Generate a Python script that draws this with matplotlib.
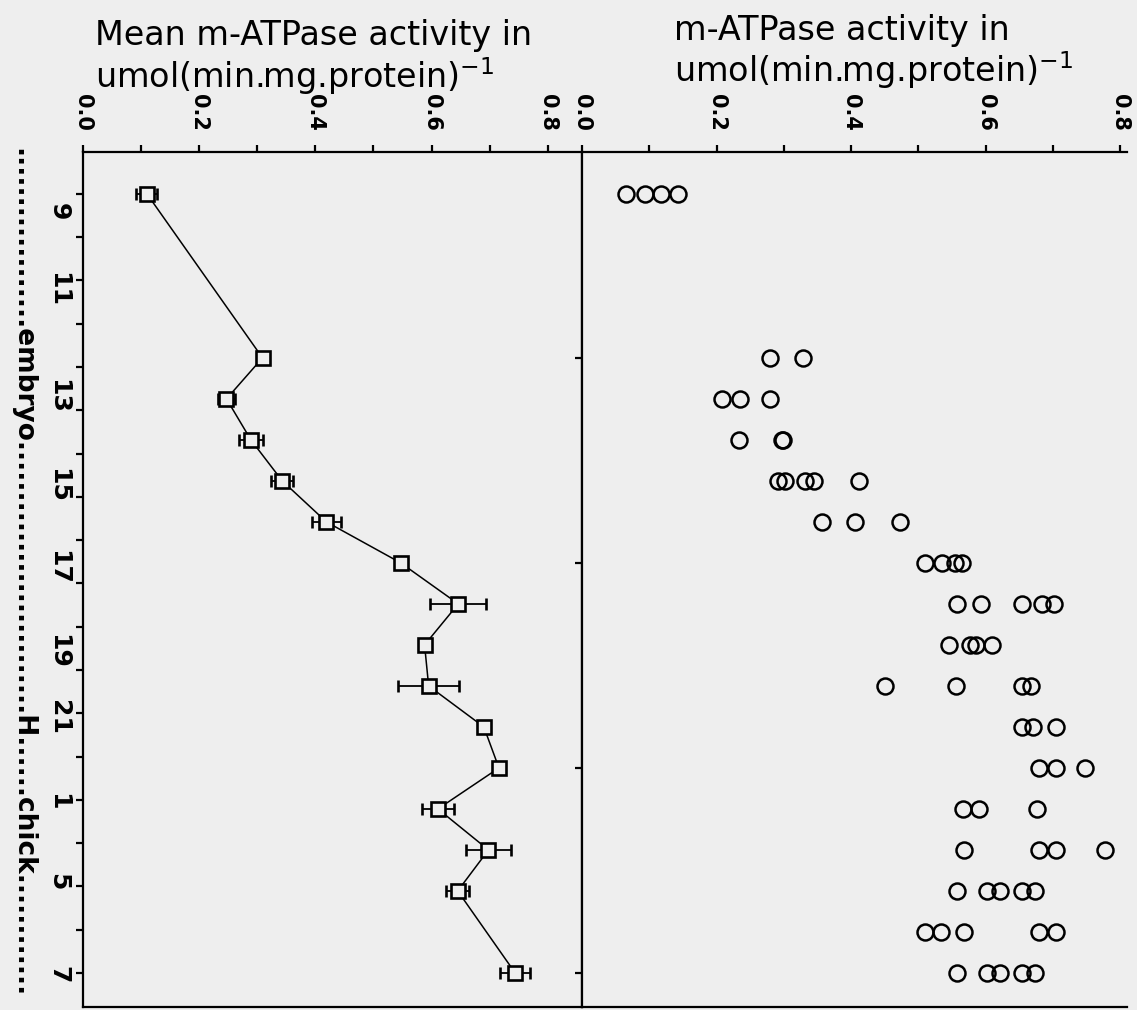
import numpy as np
import matplotlib
matplotlib.use('Agg')
import matplotlib.pyplot as plt
from matplotlib.ticker import FixedLocator, MultipleLocator

plt.rcParams.update({
    'font.family': 'DejaVu Sans', 'mathtext.fontset': 'dejavusans',
    'axes.linewidth': 1.6, 'xtick.major.width': 1.6, 'ytick.major.width': 1.6,
    'xtick.minor.width': 1.6, 'ytick.minor.width': 1.6,
})

BG = '#eeeeee'

# positions along the age axis (one slot per sampled day)
day_labels = ['9', '11', '13', '15', '17', '19', '21', '1', '5', '7']
day_label_pos = [0.44, 2.34, 4.95, 7.12, 9.10, 11.17, 12.78, 14.83, 16.78, 19.05]

# individual values (right panel)
ind_pos = [0, 4, 5, 6, 7, 8, 9, 10, 11, 12, 13, 14, 15, 16, 17, 18, 19]
ind_vals = [
    [0.066, 0.094, 0.117, 0.143],
    [0.280, 0.328],
    [0.208, 0.235, 0.280],
    [0.233, 0.297, 0.299],
    [0.292, 0.301, 0.331, 0.345, 0.411],
    [0.356, 0.406, 0.472],
    [0.510, 0.535, 0.555, 0.565],
    [0.557, 0.593, 0.654, 0.684, 0.701],
    [0.546, 0.577, 0.585, 0.610],
    [0.451, 0.556, 0.654, 0.668],
    [0.654, 0.670, 0.704],
    [0.679, 0.704, 0.747],
    [0.566, 0.590, 0.676],
    [0.568, 0.679, 0.704, 0.778],
    [0.557, 0.602, 0.621, 0.654, 0.673],
    [0.510, 0.533, 0.568, 0.679, 0.704],
    [0.557, 0.602, 0.621, 0.654, 0.673],
]

# means +- sem (left panel)
mean_pos = [0, 4, 5, 6, 7, 8, 9, 10, 11, 12, 13, 14, 15, 16, 17, 19]
mean_vals = [0.110, 0.309, 0.247, 0.289, 0.343, 0.419, 0.547, 0.646,
             0.588, 0.595, 0.690, 0.716, 0.611, 0.698, 0.645, 0.744]
mean_err = [0.018, 0.006, 0.015, 0.020, 0.019, 0.025, 0.008, 0.048,
            0.008, 0.053, 0.005, 0.008, 0.027, 0.039, 0.020, 0.026]

W, H = 1137, 1010
fig = plt.figure(figsize=(W / 100, H / 100), dpi=100, facecolor=BG)

top_px, bot_px = 152, 1007
ax1 = fig.add_axes([83 / W, 1 - bot_px / H, (582 - 83) / W, (bot_px - top_px) / H])
ax2 = fig.add_axes([582 / W, 1 - bot_px / H, (1127 - 582) / W, (bot_px - top_px) / H])

for ax in (ax1, ax2):
    ax.set_facecolor(BG)
    ax.set_ylim(19.83, -1.02)
    ax.xaxis.tick_top()
    ax.xaxis.set_major_locator(MultipleLocator(0.2))
    ax.xaxis.set_minor_locator(MultipleLocator(0.1))
    ax.tick_params(axis='x', which='both', direction='out', length=5, pad=10,
                   labelsize=15, labelrotation=270)

ax1.set_xlim(0, 0.859)
ax2.set_xlim(0, 0.81)
ax2.spines['right'].set_visible(False)
ax1.set_xticks([0.0, 0.2, 0.4, 0.6, 0.8])
ax1.set_xticklabels(['0.0', '0.2', '0.4', '0.6', '0.8'], fontweight='bold')
ax2.set_xticks([0.0, 0.2, 0.4, 0.6, 0.8])
ax2.set_xticklabels(['0.0', '0.2', '0.4', '0.6', '0.8'], fontweight='bold')

# left panel: day labels + small ticks
ax1.yaxis.set_major_locator(FixedLocator(day_label_pos))
ax1.set_yticklabels(day_labels, fontsize=18, fontweight='bold', rotation=270, va='center')
ax1.yaxis.set_minor_locator(FixedLocator(np.linspace(0, 19, 19)))
ax1.tick_params(axis='y', which='major', length=0, pad=9)
ax1.tick_params(axis='y', which='minor', length=5, direction='out')

ax2.yaxis.set_major_locator(FixedLocator([4, 9, 14, 19]))
ax2.set_yticklabels([])
ax2.tick_params(axis='y', which='major', length=5, direction='out')

# mean line with error bars
ax1.errorbar(mean_vals, mean_pos, xerr=mean_err, color='black', lw=1.1,
             elinewidth=1.3, capsize=4, capthick=1.5, marker='s', ms=9.5,
             mfc=BG, mec='black', mew=1.9, zorder=3)

# individual points
for p, vals in zip(ind_pos, ind_vals):
    ax2.plot(vals, [p] * len(vals), 'o', ms=11.5, mfc='none', mec='black', mew=1.8)

# axis titles (typed horizontally above each panel)
fig.text(95 / W, 1 - 45 / H, 'Mean m-ATPase activity in', fontsize=24, va='baseline')
fig.text(95 / W, 1 - 88 / H, 'umol(min.mg.protein)$^{-1}$', fontsize=24, va='baseline')
fig.text(674 / W, 1 - 40 / H, 'm-ATPase activity in', fontsize=24, va='baseline')
fig.text(674 / W, 1 - 82 / H, 'umol(min.mg.protein)$^{-1}$', fontsize=24, va='baseline')

# age annotation along the left edge
age_text = '.' * 18 + 'embryo' + '.' * 27 + 'H' + '.' * 6 + 'chick' + '.' * 12
fig.text(22 / W, 1 - 148 / H, age_text, fontsize=19, fontweight='bold',
         rotation=270, ha='center', va='top')

fig.savefig('out.png', dpi=100, facecolor=BG)
